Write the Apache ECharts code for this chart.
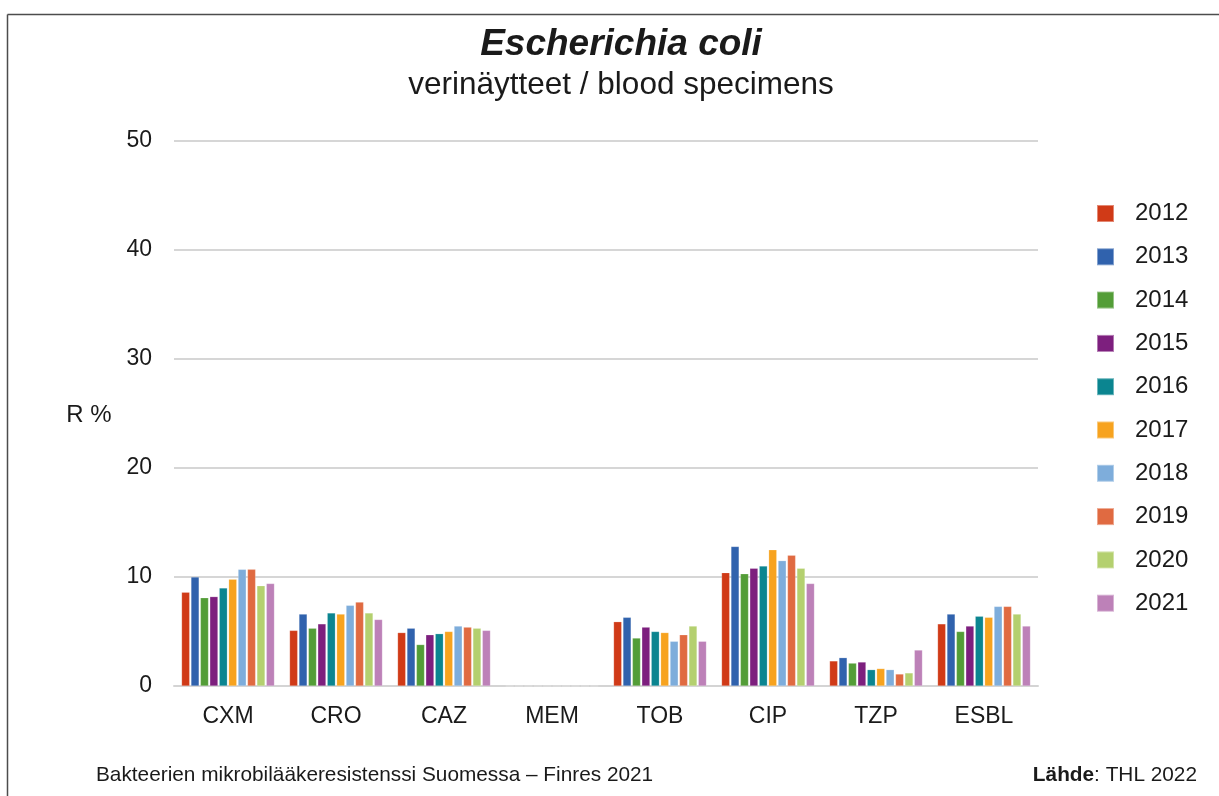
<!DOCTYPE html>
<html>
<head>
<meta charset="utf-8">
<script src="https://cdn.jsdelivr.net/npm/echarts@6/dist/echarts.min.js"></script>
<style>html,body{margin:0;padding:0;background:#fff}#c{width:1219px;height:796px}</style>
</head>
<body>
<div id="c"></div>
<script>
const categories = ['CXM', 'CRO', 'CAZ', 'MEM', 'TOB', 'CIP', 'TZP', 'ESBL'];
const years = ['2012', '2013', '2014', '2015', '2016', '2017', '2018', '2019', '2020', '2021'];
const yTicks = [0, 10, 20, 30, 40, 50];
const colors = ['#D03A17', '#3062AD', '#539D37', '#7D1F7E', '#0B8590', '#F7A31F', '#7EADDB', '#E06A41', '#B4D06F', '#BD81B8'];
// values per year, in category order
const v2012 = [8.6, 5.1, 4.9, 0, 5.9, 10.4, 2.3, 5.7];
const v2013 = [10.0, 6.6, 5.3, 0, 6.3, 12.8, 2.6, 6.6];
const v2014 = [8.1, 5.3, 3.8, 0, 4.4, 10.3, 2.1, 5.0];
const v2015 = [8.2, 5.7, 4.7, 0, 5.4, 10.8, 2.2, 5.5];
const v2016 = [9.0, 6.7, 4.8, 0, 5.0, 11.0, 1.5, 6.4];
const v2017 = [9.8, 6.6, 5.0, 0, 4.9, 12.5, 1.6, 6.3];
const v2018 = [10.7, 7.4, 5.5, 0, 4.1, 11.5, 1.5, 7.3];
const v2019 = [10.7, 7.7, 5.4, 0, 4.7, 12.0, 1.1, 7.3];
const v2020 = [9.2, 6.7, 5.3, 0, 5.5, 10.8, 1.2, 6.6];
const v2021 = [9.4, 6.1, 5.1, 0, 4.1, 9.4, 3.3, 5.5];
const seriesValues = [v2012, v2013, v2014, v2015, v2016, v2017, v2018, v2019, v2020, v2021];

const FONT = '"Liberation Sans", Arial, sans-serif';
const chart = echarts.init(document.getElementById('c'), null, {renderer: 'canvas'});
chart.setOption({
  backgroundColor: '#ffffff',
  animation: false,
  color: colors,
  title: [{
    text: 'Escherichia coli',
    left: 616, top: 21, textAlign: 'center',
    textStyle: {fontFamily: FONT, fontSize: 37, fontWeight: 'bold', fontStyle: 'italic', color: '#1a1a1a'}
  }, {
    text: 'verinäytteet / blood specimens',
    left: 616, top: 64, textAlign: 'center',
    textStyle: {fontFamily: FONT, fontSize: 31.5, fontWeight: 'normal', color: '#1a1a1a'}
  }],
  legend: {
    orient: 'vertical',
    left: 1091, top: 196.5,
    itemWidth: 17, itemHeight: 17, itemGap: 19.3,
    icon: 'rect',
    data: years,
    textStyle: {fontFamily: FONT, fontSize: 24, color: '#1a1a1a', padding: [0, 0, 0, 16]}
  },
  grid: {left: 174, right: 181, top: 141, bottom: 110},
  xAxis: {
    type: 'category',
    data: categories,
    axisLine: {show: true, lineStyle: {color: '#d4d4d4', width: 2}},
    axisTick: {show: false},
    axisLabel: {fontFamily: FONT, fontSize: 23, color: '#1a1a1a', margin: 19}
  },
  yAxis: {
    type: 'value',
    min: yTicks[0], max: yTicks[yTicks.length - 1], interval: 10,
    axisLine: {show: false},
    axisTick: {show: false},
    splitLine: {lineStyle: {color: '#c8c8c8', width: 1.5}},
    axisLabel: {fontFamily: FONT, fontSize: 23, color: '#1a1a1a', margin: 22}
  },
  series: years.map((y, i) => ({
    name: y,
    type: 'bar',
    data: seriesValues[i],
    barGap: '16%',
    barCategoryGap: '14%',
    itemStyle: {color: colors[i], borderColor: 'rgba(255,255,255,0.4)', borderWidth: 0.5}
  })),
  graphic: [
    {type: 'line', shape: {x1: 7.5, y1: 14.5, x2: 1219, y2: 14.5}, style: {stroke: '#4d4d4d', lineWidth: 1.5}},
    {type: 'line', shape: {x1: 7.5, y1: 14.5, x2: 7.5, y2: 796}, style: {stroke: '#4d4d4d', lineWidth: 1.5}},
    {type: 'text', x: 89, y: 415, style: {text: 'R %', fontFamily: FONT, fontSize: 24, fill: '#1a1a1a', textAlign: 'center', textVerticalAlign: 'middle'}},
    {type: 'text', x: 96, y: 775, style: {text: 'Bakteerien mikrobilääkeresistenssi Suomessa – Finres 2021', fontFamily: FONT, fontSize: 20.8, fill: '#1a1a1a', textAlign: 'left', textVerticalAlign: 'middle'}},
    {type: 'text', x: 1197, y: 775, style: {
      text: '{b|Lähde}: THL 2022',
      rich: {b: {fontFamily: FONT, fontSize: 20.8, fontWeight: 'bold', fill: '#1a1a1a'}},
      fontFamily: FONT, fontSize: 20.8, fill: '#1a1a1a', textAlign: 'right', textVerticalAlign: 'middle'}}
  ]
});
</script>
</body>
</html>
